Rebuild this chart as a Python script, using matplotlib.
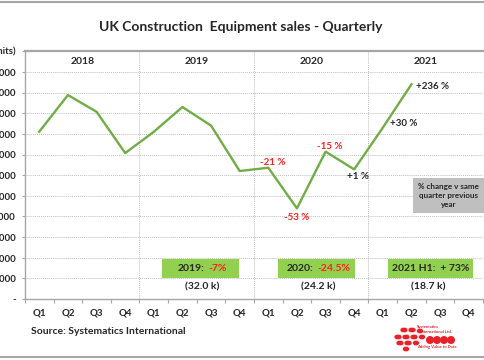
import matplotlib
matplotlib.use('Agg')
import matplotlib.pyplot as plt
from matplotlib.patches import Rectangle, Ellipse

plt.rcParams['font.family'] = ['Lato', 'DejaVu Sans']
plt.rcParams['font.weight'] = 'bold'

# quarterly unit sales, 2018 Q1 .. 2021 Q2
years = ['2018', '2019', '2020', '2021']
quarters = ['Q1', 'Q2', 'Q3', 'Q4']
sales = [8110, 9880, 9070, 7070,
         8100, 9300, 8400, 6200,
         6360, 4390, 7140, 6280,
         8300, 10400]
# % change labels vs same quarter previous year (index, text, colour)
pct_labels = [(8, '-21 %', 'red'), (9, '-53 %', 'red'), (10, '-15 %', 'red'),
              (11, '+1 %', 'black'), (12, '+30 %', 'black'), (13, '+236 %', 'black')]
annual_year = ['2019:', '2020:', '2021 H1:  + 73%']
annual_pct = ['-7%', '-24.5%', '']
annual_total = ['(32.0 k)', '(24.2 k)', '(18.7 k)']
yticks = list(range(0, 13000, 1000))
ylabels = ['-'] + ['{:,}'.format(v) for v in yticks[1:-1]] + ['(units)']

dark = '#262626'
red = '#ff1f1f'
green_line = '#70ad47'
green_box = '#92d050'
grid = '#bfbfbf'

fig = plt.figure(figsize=(4.85, 3.6), dpi=100)
ax = fig.add_axes([25 / 485, 61 / 360, 458 / 485, 247.7 / 360])

x = [i + 0.5 for i in range(len(sales))]
ax.plot(x, sales, color=green_line, lw=1.7, zorder=3)

ax.set_xlim(0, 16)
ax.set_ylim(0, 12000)

# grid
for v in yticks[1:-1]:
    ax.axhline(v, color=grid, lw=0.7, ls=(0, (1, 1)), zorder=1)
ax.axhline(12000, color='#a6a6a6', lw=1.6, zorder=2, clip_on=False)
for v in [4, 8, 12]:
    ax.axvline(v, color=grid, lw=0.7, ls=(0, (1, 1)), zorder=1)

for s in ['top', 'right']:
    ax.spines[s].set_visible(False)
for s in ['left', 'bottom']:
    ax.spines[s].set_color('#a6a6a6')
    ax.spines[s].set_linewidth(1.0)

ax.set_yticks(yticks)
ax.set_yticklabels(ylabels)
ax.tick_params(axis='y', length=2.5, pad=4, color='#a6a6a6', labelsize=7, labelcolor=dark)
ax.set_xticks(range(0, 17))
ax.set_xticklabels([])
ax.set_xticks([i + 0.5 for i in range(16)], minor=True)
ax.set_xticklabels(quarters * 4, minor=True)
ax.tick_params(axis='x', which='major', length=3, color='#a6a6a6', direction='out')
ax.tick_params(axis='x', which='minor', length=0, pad=7, labelsize=7, labelcolor=dark)
for t in ax.get_yticklabels() + ax.get_xticklabels(minor=True):
    t.set_fontweight('bold')

# year headers
for i, yr in enumerate(years):
    ax.text(i * 4 + 2, 11520, yr, ha='center', va='center', fontsize=7.5,
            fontweight='bold', color=dark)

# % change labels
offsets = {8: (3, 4, 'center'), 9: (0, -6.5, 'center'), 10: (3, 4, 'center'),
           11: (3, -5, 'center'), 12: (15, 3, 'center'), 13: (3, -1.5, 'left')}
for idx, txt, col in pct_labels:
    dx, dy, ha = offsets[idx]
    ax.annotate(txt, (x[idx], sales[idx]), xytext=(dx, dy), textcoords='offset points',
                ha=ha, va='center', fontsize=7, fontweight='bold',
                color=red if col == 'red' else dark, zorder=4)

# annual summary boxes
box_x = [(4.79, 7.48), (8.83, 11.54), (12.69, 15.65)]
split_x = [6.27, 10.08, None]
total_x = [6.18, 10.24, 14.09]
for (x0, x1), yl, pl, sx, tot, tx in zip(box_x, annual_year, annual_pct, split_x,
                                          annual_total, total_x):
    ax.add_patch(Rectangle((x0, 1020), x1 - x0, 930, facecolor=green_box,
                           edgecolor='none', zorder=3))
    if sx is None:
        ax.text((x0 + x1) / 2, 1485, yl, ha='center', va='center', fontsize=7.5,
                fontweight='bold', color=dark, zorder=4)
    else:
        ax.text(sx, 1485, yl, ha='right', va='center', fontsize=7.5,
                fontweight='bold', color=dark, zorder=4)
        ax.text(sx + 0.12, 1485, pl, ha='left', va='center', fontsize=7.5,
                fontweight='bold', color=red, zorder=4)
    ax.text(tx, 600, tot, ha='center', va='center', fontsize=7.5,
            fontweight='bold', color=dark, zorder=4)

# overlay in pixel coordinates for decorations
ov = fig.add_axes([0, 0, 1, 1], zorder=9)
ov.set_xlim(0, 485)
ov.set_ylim(360, 0)
ov.axis('off')
ov.patch.set_alpha(0)

ov.plot([0, 485], [2, 2], color='#a6a6a6', lw=1.5)
ov.plot([0, 485], [357, 357], color='#a6a6a6', lw=1.5)

ov.text(241, 27, 'UK Construction  Equipment sales - Quarterly', ha='center', va='center',
        fontsize=10, fontweight='bold', color=dark)
ov.text(31, 332, 'Source: Systematics International', ha='left', va='center',
        fontsize=7.5, fontweight='bold', color=dark)

ov.add_patch(Rectangle((413, 178), 71, 35, facecolor='#bfbfbf', edgecolor='none'))
ov.text(448.5, 195.5, '% change v same\nquarter previous\nyear', ha='center', va='center',
        fontsize=5.8, fontweight='bold', color=dark, linespacing=1.25)

# logo
logo_red = '#e8202a'
for cx, cy, w in [(404, 330, 8), (412, 330, 8), (420, 331, 7),
                  (398, 337, 8), (406, 337, 8), (414, 337, 8), (422, 337, 7),
                  (400, 343, 8), (408, 343, 8), (416, 343, 7), (406, 349, 7)]:
    ov.add_patch(Ellipse((cx, cy), w, 5.5, facecolor=logo_red, edgecolor='white', lw=0.4))
for cx in [430, 437, 444, 451]:
    ov.add_patch(Ellipse((cx, 340), 8, 8, facecolor=logo_red, edgecolor='none'))
ov.text(417, 327, 'Systematics', fontsize=3, color=logo_red, va='center')
ov.text(420, 332, 'International Ltd.', fontsize=3, color=logo_red, va='center')
ov.text(417, 347, 'Adding Value to Data', fontsize=3, color=logo_red, va='center')

fig.savefig('out.png', dpi=100)
